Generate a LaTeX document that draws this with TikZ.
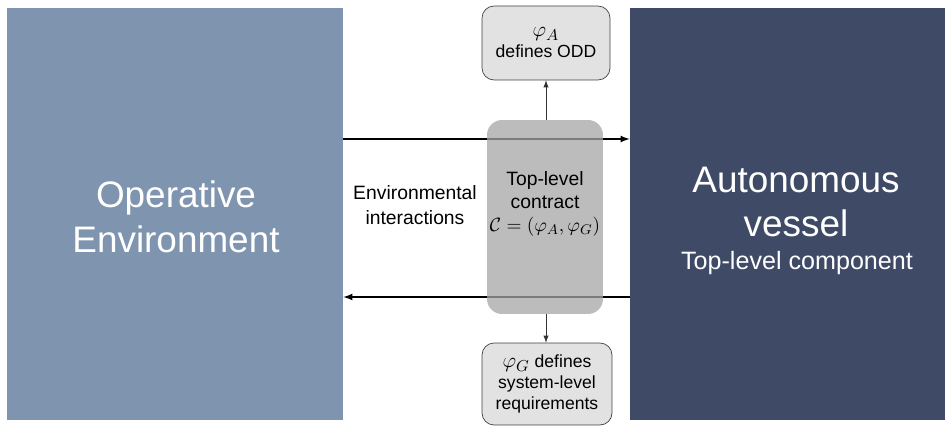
\documentclass[tikz,border=0pt]{standalone}
\usepackage{amsmath,amsfonts}
\usepackage{fontspec}
\setmainfont{Liberation Sans}
\usepackage{tikz}
\usetikzlibrary{arrows}

\definecolor{envblue}{HTML}{7F94AF}
\definecolor{vesselblue}{HTML}{3E4A66}
\definecolor{boxgray}{HTML}{E2E2E2}

\tikzset{
  bigblock/.style={rectangle,draw=none,inner sep=0pt},
  infobox/.style={rectangle,rounded corners=0.24cm,draw=black!75,fill=boxgray,align=center,font=\fontsize{10}{12}\selectfont},
  bigtext/.style={text=white,align=center,font=\fontsize{21}{25.5}\selectfont}
}

\begin{document}
\begin{tikzpicture}[x=0.02cm,y=-0.02cm]
\useasboundingbox (0,0) rectangle (949,429);

%the two big blocks
\node[bigblock,fill=envblue,minimum width=6.72cm,minimum height=8.24cm] (env) at (175,214) {};
\node[bigblock,fill=vesselblue,minimum width=6.3cm,minimum height=8.24cm] (vessel) at (787.5,214) {};

\node[bigtext] (envtext) at (176,217) {Operative\\Environment};
\node[bigtext,font=\fontsize{21}{25}\selectfont] (vesseltext) at (796,202) {Autonomous\\vessel};
\node[text=white,font=\fontsize{14.3}{16}\selectfont] (comptext) at (797,263) {Top-level component};

%interaction arrows between environment and vessel
\coordinate (upper) at (0,139);
\coordinate (lower) at (0,297);
\draw[-latex,thick] (env.east |- upper) -- (vessel.west |- upper);
\draw[-latex,thick] (vessel.west |- lower) -- (env.east |- lower);
\node[align=center,font=\fontsize{11}{14}\selectfont] (interact) at (415,205) {Environmental\\interactions};

%contract in the middle
\node[rectangle,rounded corners=0.3cm,fill=black!35,fill opacity=0.75,minimum width=2.32cm,minimum height=3.88cm] (contract) at (545,217) {};
\node[align=center,font=\fontsize{11}{13}\selectfont] (contracttext) at (545,204) {Top-level\\contract\\$\mathcal{C}=(\varphi_A,\varphi_G)$};

%assumptions and guarantees
\node[infobox,minimum width=2.56cm,minimum height=1.48cm] (odd) at (546,43) {{\fontsize{12.5}{14}\selectfont$\varphi_A$}\\defines ODD};
\node[infobox,minimum width=2.6cm,minimum height=1.64cm] (req) at (547,384) {{\fontsize{12.5}{14}\selectfont$\varphi_G$} defines\\system-level\\requirements};

\draw[-latex,black!80] (contract.north -| odd.south) -- (odd.south);
\draw[-latex,black!80] (contract.south -| odd.south) -- (req.north -| odd.south);

\end{tikzpicture}
\end{document}
